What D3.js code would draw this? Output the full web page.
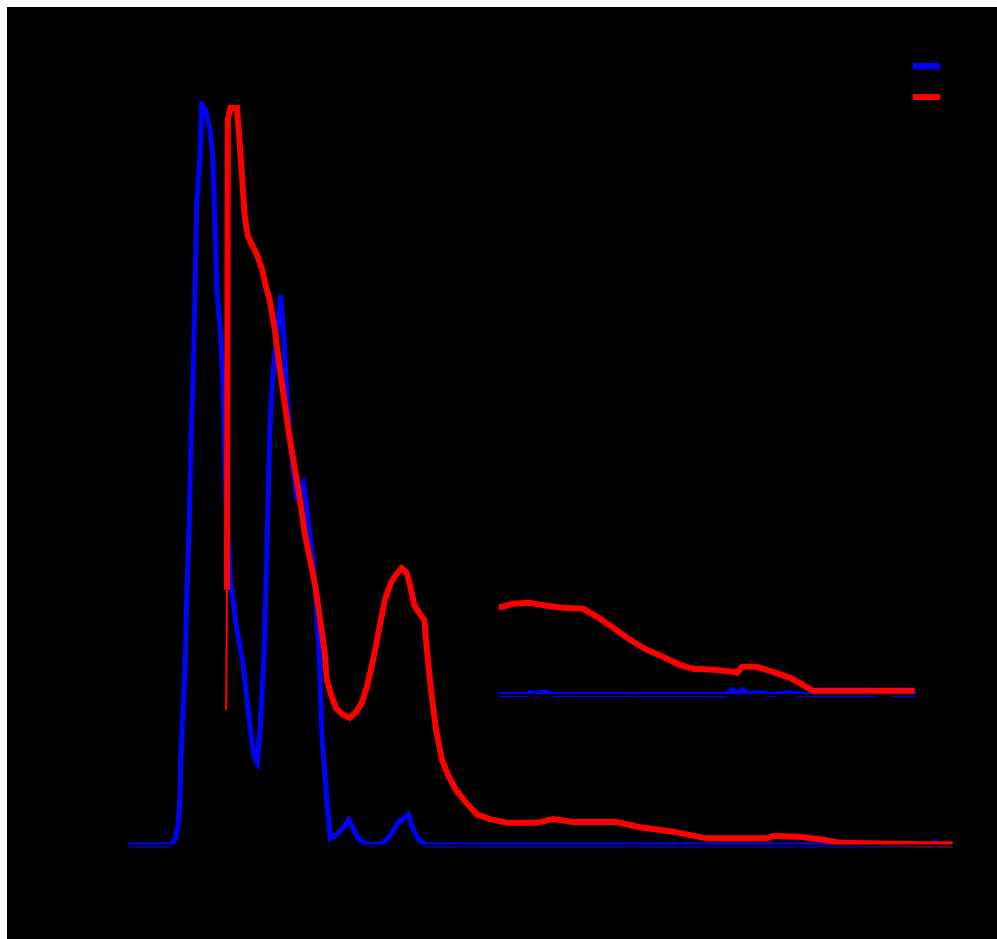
<!DOCTYPE html>
<html lang="en">

<head>
  <title>Distribution</title>
  <meta charset="UTF-8">
  <script src="https://cdn.jsdelivr.net/npm/d3@7"></script>
  <style>
    body {
      margin: 0;
      background: #fff;
    }
    svg {
      display: block;
    }
    text {
      font-family: "DejaVu Sans", sans-serif;
    }
  </style>
</head>

<body>
  <div id="container"></div>
  <script>
    // main chart, series
    const blueX = [0, 5.1, 5.7, 6.1, 6.3, 6.4, 6.7, 6.9, 7.1, 7.4, 7.6, 7.9, 8.1, 8.3, 8.7, 8.9, 9.3, 9.9, 10.2, 10.5, 10.7,
      11.1, 11.4, 11.8, 12.3, 13.0, 13.8, 14.6, 15.1, 15.5, 15.8, 16.1, 16.3, 16.7, 17.0, 17.4, 17.9, 18.3, 18.7, 19.0,
      19.4, 19.8, 20.2, 20.6, 21.0, 21.3, 21.7, 22.1, 22.5, 22.9, 23.2, 23.7, 24.2, 25.1, 25.9, 26.4, 26.9, 27.5, 28.2,
      29.2, 30.6, 31.5, 32.3, 33.0, 33.5, 33.9, 34.6, 35.5, 95.8, 96.2, 96.6, 98.3];
    const blueY = [0, 0, 0.7, 2.7, 6.1, 11.5, 18.6, 23.6, 32.7, 43.2, 53.8, 64.5, 75.0, 86.8, 93.0, 100, 99.5, 96.6, 93.0, 83.1, 75.0,
      69.6, 62.8, 46.6, 35.8, 29.7, 24.6, 16.5, 12.2, 11.2, 14.9, 20.9, 25.4, 41.6, 56.1, 64.2, 69.6, 74.3, 68.2, 61.5,
      54.7, 50.7, 46.6, 48.0, 48.9, 46.6, 42.6, 38.5, 33.1, 25.0, 14.9, 7.4, 0.9, 1.5, 2.6, 3.4, 2.3, 0.9, 0.3,
      0, 0.3, 1.5, 3.1, 3.6, 4.1, 2.6, 0.9, 0, 0, 0.4, 0, 0];

    const redX = [11.8, 11.9, 12.0, 12.3, 13.1, 13.3, 13.7, 14.0, 14.4, 14.9, 15.5, 16.1, 16.5, 17.0, 17.6, 18.2, 18.8, 19.4,
      20.0, 20.6, 21.2, 21.8, 22.4, 23.0, 23.5, 23.8, 24.3, 24.9, 25.7, 26.5, 27.3, 28.0, 28.6, 29.3, 30.0, 30.7, 31.4,
      32.1, 32.7, 33.3, 33.7, 34.2, 34.9, 35.4, 35.7, 36.2, 36.8, 37.5, 38.2, 39.2, 40.4, 41.7, 43.2, 45.2, 48.8, 50.7,
      53.1, 58.3, 61.1, 65.0, 69.0, 73.0, 76.2, 76.9, 80.1, 82.9, 84.9, 89.6, 94.4, 98.3];
    const redY = [18.2, 34.5, 98.0, 99.6, 99.6, 96.6, 90.3, 85.1, 82.2, 81.1, 79.7, 77.7, 75.7, 73.6, 69.6, 64.2, 59.5, 54.7,
      50.7, 46.6, 41.9, 38.5, 35.1, 30.4, 26.4, 22.3, 20.3, 18.5, 17.6, 17.2, 18.0, 19.3, 21.6, 25.0, 29.1, 33.1, 35.4,
      36.6, 37.4, 36.8, 35.1, 32.4, 31.2, 30.4, 26.4, 20.9, 15.5, 11.5, 9.5, 7.4, 5.7, 4.1, 3.5, 3.0, 3.0, 3.5,
      3.1, 3.1, 2.4, 1.8, 0.9, 0.9, 0.9, 1.2, 1.1, 0.7, 0.3, 0.2, 0.1, 0.1];

    // inset (zoom of the tail)
    const insetBlueX = [40, 44.3, 44.7, 45.6, 46.1, 47.3, 47.9, 72.6, 73.6, 74.3, 75.0, 75.9, 77.6, 79.0, 81.9, 83.3, 94.0,
      94.7, 95.9, 96.4, 100];
    const insetBlueY = [0, 0, 0.6, 0, 0.6, 0.6, 0, 0, 1.4, 0.2, 1.4, 0.2, 0.5, 0, 0.5, 0, 0, 0.9, 0.9, 0, 0];
    const insetRedX = [40.1, 42.3, 44.7, 47.1, 49.4, 52.3, 54.3, 56.6, 59.0, 61.4, 63.7, 66.1, 68.0, 70.9, 73.7, 74.3, 75.0,
      77.1, 79.4, 81.9, 83.7, 85.1, 90.0, 94.7, 99.7];
    const insetRedY = [26.0, 27.2, 27.5, 26.6, 26.0, 25.7, 23.3, 20.0, 16.4, 13.4, 11.3, 8.9, 7.7, 7.4, 6.8, 6.5, 8.3,
      8.3, 6.8, 5.0, 2.9, 1.1, 1.1, 1.1, 1.1];

    const seriesNames = ['Sample 1', 'Sample 2'];
    const seriesColors = ['#0000ff', '#ff0000'];
    const xTicks = [0, 20, 40, 60, 80, 100];
    const yTicks = [0, 20, 40, 60, 80, 100];
    const insetXTicks = [40, 60, 80, 100];
    const insetYTicks = [10, 20, 30];

    const W = 997, H = 939;
    const svg = d3.select('#container').append('svg')
      .attr('width', W)
      .attr('height', H);

    // white frame, black plot background
    svg.append('rect').attr('width', W).attr('height', H).attr('fill', '#fff');
    svg.append('rect').attr('x', 7).attr('y', 7).attr('width', W - 7).attr('height', H - 7).attr('fill', '#000');

    const x = d3.scaleLinear().domain([0, 100]).range([127, 967]);
    const y = d3.scaleLinear().domain([0, 100]).range([845, 105]);

    const ix = d3.scaleLinear().domain([40, 100]).range([497, 917]);
    const iy = d3.scaleLinear().domain([0, 30]).range([694.5, 594.5]);

    const zip = (xs, ys) => xs.map((d, i) => [d, ys[i]]);

    function drawLine(g, data, sx, sy, color, width) {
      g.append('path')
        .datum(data)
        .attr('fill', 'none')
        .attr('stroke', color)
        .attr('stroke-width', width)
        .attr('stroke-linejoin', 'miter')
        .attr('d', d3.line().x(d => sx(d[0])).y(d => sy(d[1])));
    }

    const main = svg.append('g');
    const blue = zip(blueX, blueY);
    const red = zip(redX, redY);
    drawLine(main, blue, x, y, seriesColors[0], 5);
    // the first red step is drawn thin
    drawLine(main, red.slice(0, 2), x, y, seriesColors[1], 2);
    drawLine(main, red.slice(1), x, y, seriesColors[1], 6);

    const inset = svg.append('g');
    drawLine(inset, zip(insetBlueX, insetBlueY), ix, iy, seriesColors[0], 5);
    drawLine(inset, zip(insetRedX, insetRedY), ix, iy, seriesColors[1], 6);

    // axes (black, on top of the lines)
    function styleAxis(g, size) {
      g.selectAll('path, line').attr('stroke', '#000').attr('stroke-width', 2);
      g.selectAll('text').attr('fill', '#000').attr('font-size', size);
    }
    svg.append('g')
      .attr('transform', 'translate(0,' + y(0) + ')')
      .call(d3.axisBottom(x).tickValues(xTicks))
      .call(styleAxis, 18);
    svg.append('g')
      .attr('transform', 'translate(' + x(0) + ',0)')
      .call(d3.axisLeft(y).tickValues(yTicks))
      .call(styleAxis, 18);
    svg.append('text')
      .attr('x', (x(0) + x(100)) / 2).attr('y', 900)
      .attr('text-anchor', 'middle').attr('fill', '#000').attr('font-size', 20)
      .text('Size');
    svg.append('text')
      .attr('transform', 'translate(50,' + (y(50)) + ') rotate(-90)')
      .attr('text-anchor', 'middle').attr('fill', '#000').attr('font-size', 20)
      .text('Intensity');

    svg.append('g')
      .attr('transform', 'translate(0,' + iy(0) + ')')
      .call(d3.axisBottom(ix).tickValues(insetXTicks).tickSize(4))
      .call(styleAxis, 12);
    svg.append('g')
      .attr('transform', 'translate(' + ix(40) + ',0)')
      .call(d3.axisLeft(iy).tickValues(insetYTicks).tickSize(4))
      .call(styleAxis, 12);

    // legend
    const legend = svg.append('g').attr('transform', 'translate(913,66)');
    seriesNames.forEach((name, i) => {
      const row = legend.append('g').attr('transform', 'translate(0,' + (i * 31) + ')');
      row.append('line')
        .attr('x1', 0).attr('x2', 27)
        .attr('stroke', seriesColors[i]).attr('stroke-width', 6);
      row.append('text')
        .attr('x', -8).attr('dy', '0.35em')
        .attr('text-anchor', 'end').attr('fill', '#000').attr('font-size', 16)
        .text(name);
    });
  </script>
</body>

</html>
